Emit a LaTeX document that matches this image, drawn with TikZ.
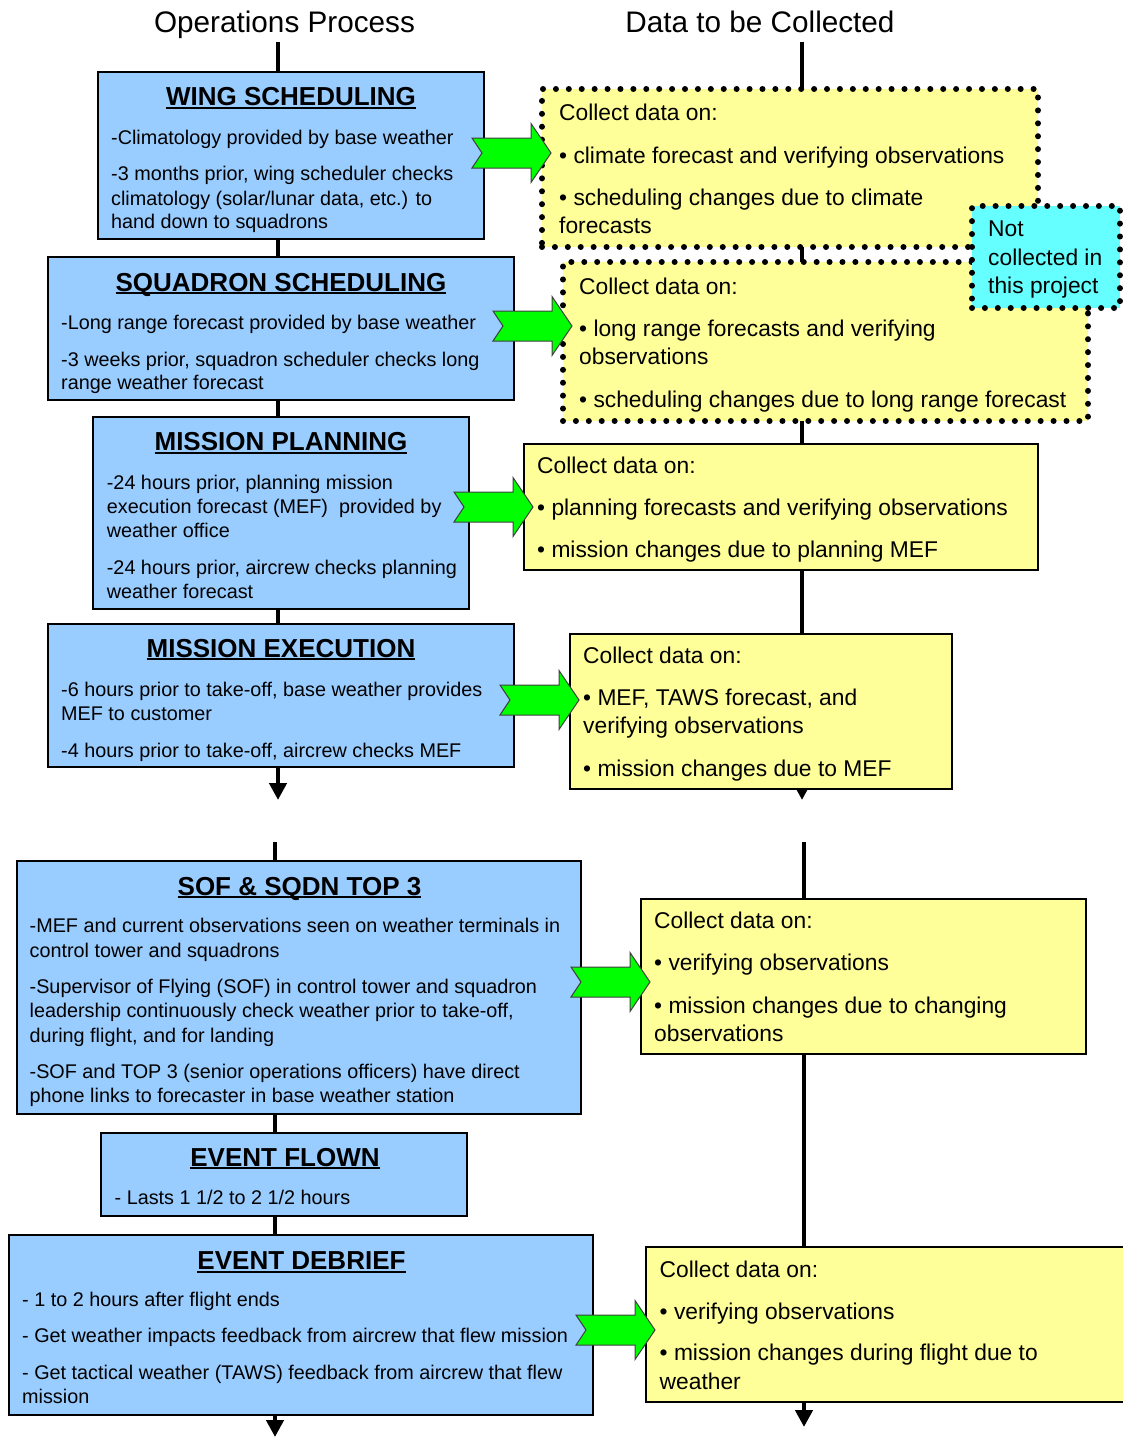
\documentclass[tikz,border=0pt]{standalone}
\usepackage{fontspec}
\setmainfont{Liberation Sans}
\usetikzlibrary{arrows.meta,calc,backgrounds}
\definecolor{boxblue}{RGB}{153,204,255}
\definecolor{boxyellow}{RGB}{255,255,153}
\definecolor{boxcyan}{RGB}{102,255,255}
\definecolor{arrowgreen}{RGB}{0,255,0}
\newcommand\myul[1]{\setbox0=\hbox{#1}\rlap{\rule[-3.2pt]{\wd0}{1.8pt}}\box0}
\newcommand\mkbox[6]{\node[#2, minimum width={#5-#3}, minimum height={#6-#4}] (#1) at (#3,#4) {};}
\newcommand\tx[5]{\node[#2] (#1) at (#3,#4) {#5};}
\newcommand\garrow[2]{\draw[garrowsty] ($(#1.west |- 0,#2)+(9,0)$) -- ++(-20,-29.5) -- ++(0,14.5) -- ++(-59,0) -- ++(10,15) -- ++(-10,15) -- ++(59,0) -- ++(0,14.5) -- cycle;}
\tikzset{
  boxbase/.style={inner sep=0pt, outer sep=0pt, anchor=north west},
  opbox/.style={boxbase, draw=black, line width=1.6pt, fill=boxblue},
  databox/.style={boxbase, draw=black, line width=1.6pt, fill=boxyellow},
  dotbox/.style={boxbase, draw=black, line width=6pt, line cap=round, dash pattern=on 0.01pt off 12.9pt, fill=boxyellow},
  cyanbox/.style={dotbox, fill=boxcyan},
  hdr/.style={anchor=base, inner sep=0pt, font=\fontsize{29.7}{33}\selectfont},
  ttl/.style={anchor=base, inner sep=0pt, font=\bfseries\fontsize{26}{28}\selectfont},
  ltxt/.style={anchor=base west, inner sep=0pt, font=\fontsize{19.8}{24}\selectfont},
  rtxt/.style={anchor=base west, inner sep=0pt, font=\fontsize{22.8}{28}\selectfont},
  spine/.style={draw=black, line width=4.5pt},
  spinearrow/.style={spine, -{Triangle[width=17pt,length=17pt]}},
  garrowsty/.style={fill=arrowgreen, draw=black!75, line width=1pt, line join=miter},
}
\begin{document}
\begin{tikzpicture}[x=1pt,y=-1pt]
\clip (0,0) rectangle (1123,1437);
% headers
\tx{hL}{hdr}{284.5}{33}{Operations Process}
\tx{hR}{hdr}{760}{33}{Data to be Collected}
% left boxes
\mkbox{B1}{opbox}{98}{72}{484}{239}
\mkbox{B2}{opbox}{48}{257}{514}{400}
\mkbox{B3}{opbox}{93}{417}{469}{609}
\mkbox{B4}{opbox}{48}{624}{514}{767}
\mkbox{B5}{opbox}{17}{861}{581}{1114}
\mkbox{B6}{opbox}{101}{1133}{467}{1216}
\mkbox{B7}{opbox}{9}{1235}{593}{1415}
% right boxes
\mkbox{Y1}{dotbox}{542}{89}{1038}{247}
\mkbox{Y2}{dotbox}{563}{262}{1088}{421}
\mkbox{C1}{cyanbox}{972}{206}{1120}{308}
\mkbox{Y3}{databox}{524}{444}{1038}{570}
\mkbox{Y4}{databox}{570}{634}{952}{789}
\mkbox{Y5}{databox}{641}{899}{1086}{1054}
\mkbox{Y6}{databox}{646}{1247}{1140}{1402}
% titles
\tx{B1t}{ttl}{291}{105.7}{\myul{WING SCHEDULING}}
\tx{B2t}{ttl}{281}{291}{\myul{SQUADRON SCHEDULING}}
\tx{B3t}{ttl}{281}{450.7}{\myul{MISSION PLANNING}}
\tx{B4t}{ttl}{281}{657}{\myul{MISSION EXECUTION}}
\tx{B5t}{ttl}{299.5}{895}{\myul{SOF \& SQDN TOP 3}}
\tx{B6t}{ttl}{285}{1166}{\myul{EVENT FLOWN}}
\tx{B7t}{ttl}{301.5}{1269.3}{\myul{EVENT DEBRIEF}}
% left texts
\tx{B1a}{ltxt}{111}{144.3}{-Climatology provided by base weather}
\tx{B1b}{ltxt}{111}{180.5}{-3 months prior, wing scheduler checks}
\tx{B1c}{ltxt}{111}{205}{climatology (solar/lunar data, etc.) to}
\tx{B1d}{ltxt}{111}{228.5}{hand down to squadrons}
\tx{B2a}{ltxt}{61}{329}{-Long range forecast provided by base weather}
\tx{B2b}{ltxt}{61}{366}{-3 weeks prior, squadron scheduler checks long}
\tx{B2c}{ltxt}{61}{389}{range weather forecast}
\tx{B3a}{ltxt}{106.7}{489.3}{-24 hours prior, planning mission}
\tx{B3b}{ltxt}{106.7}{513.3}{execution forecast (MEF)\ \ provided by}
\tx{B3c}{ltxt}{106.7}{537.3}{weather office}
\tx{B3d}{ltxt}{106.7}{574}{-24 hours prior, aircrew checks planning}
\tx{B3e}{ltxt}{106.7}{598.3}{weather forecast}
\tx{B4a}{ltxt}{61}{696}{-6 hours prior to take-off, base weather provides}
\tx{B4b}{ltxt}{61}{720}{MEF to customer}
\tx{B4c}{ltxt}{61}{757}{-4 hours prior to take-off, aircrew checks MEF}
\tx{B5a}{ltxt}{29.5}{932.7}{-MEF and current observations seen on weather terminals in}
\tx{B5b}{ltxt}{29.5}{957.3}{control tower and squadrons}
\tx{B5c}{ltxt}{29.5}{993.3}{-Supervisor of Flying (SOF) in control tower and squadron}
\tx{B5d}{ltxt}{29.5}{1017.7}{leadership continuously check weather prior to take-off,}
\tx{B5e}{ltxt}{29.5}{1042.3}{during flight, and for landing}
\tx{B5f}{ltxt}{29.5}{1078.3}{-SOF and TOP 3 (senior operations officers) have direct}
\tx{B5g}{ltxt}{29.5}{1102.3}{phone links to forecaster in base weather station}
\tx{B6a}{ltxt}{114.5}{1204}{- Lasts 1 1/2 to 2 1/2 hours}
\tx{B7a}{ltxt}{22}{1306.7}{- 1 to 2 hours after flight ends}
\tx{B7b}{ltxt}{22}{1342.7}{- Get weather impacts feedback from aircrew that flew mission}
\tx{B7c}{ltxt}{22}{1379.3}{- Get tactical weather (TAWS) feedback from aircrew that flew}
\tx{B7d}{ltxt}{22}{1403.3}{mission}
% right texts
\tx{Y1a}{rtxt}{559}{120.7}{Collect data on:}
\tx{Y1b}{rtxt}{559}{163.5}{• climate forecast and verifying observations}
\tx{Y1c}{rtxt}{559}{205.5}{• scheduling changes due to climate}
\tx{Y1d}{rtxt}{559}{233.5}{forecasts}
\tx{Y2a}{rtxt}{579}{294.5}{Collect data on:}
\tx{Y2b}{rtxt}{579}{336.5}{• long range forecasts and verifying}
\tx{Y2c}{rtxt}{579}{364.5}{observations}
\tx{Y2d}{rtxt}{579}{407.5}{• scheduling changes due to long range forecast}
\tx{C1a}{rtxt}{988}{236.7}{Not}
\tx{C1b}{rtxt}{988}{265}{collected in}
\tx{C1c}{rtxt}{988}{293.3}{this project}
\tx{Y3a}{rtxt}{537}{473.5}{Collect data on:}
\tx{Y3b}{rtxt}{537}{515.5}{• planning forecasts and verifying observations}
\tx{Y3c}{rtxt}{537}{557.5}{• mission changes due to planning MEF}
\tx{Y4a}{rtxt}{583}{663.5}{Collect data on:}
\tx{Y4b}{rtxt}{583}{705.5}{• MEF, TAWS forecast, and}
\tx{Y4c}{rtxt}{583}{733.5}{verifying observations}
\tx{Y4d}{rtxt}{583}{776.5}{• mission changes due to MEF}
\tx{Y5a}{rtxt}{654}{928.5}{Collect data on:}
\tx{Y5b}{rtxt}{654}{970.5}{• verifying observations}
\tx{Y5c}{rtxt}{654}{1013.5}{• mission changes due to changing}
\tx{Y5d}{rtxt}{654}{1041.5}{observations}
\tx{Y6a}{rtxt}{659.5}{1277.3}{Collect data on:}
\tx{Y6b}{rtxt}{659.5}{1319.3}{• verifying observations}
\tx{Y6c}{rtxt}{659.5}{1360.5}{• mission changes during flight due to}
\tx{Y6d}{rtxt}{659.5}{1389.3}{weather}
% spine coordinates
\coordinate (lt) at (278,42);
\coordinate (lend) at (278,800);
\coordinate (lb) at (275,842);
\coordinate (lbend) at (275,1437);
\coordinate (rt) at (802,42);
\coordinate (rend) at (802,800);
\coordinate (rb) at (804,842);
\coordinate (rbend) at (804,1427);
\begin{scope}[on background layer]
\draw[spine] (lt) -- (lt |- B1.north);
\draw[spine] (lt |- B1.south) -- (lt |- B2.north);
\draw[spine] (lt |- B2.south) -- (lt |- B3.north);
\draw[spine] (lt |- B3.south) -- (lt |- B4.north);
\draw[spinearrow] (lt |- B4.south) -- (lend);
\draw[spine] (lb) -- (lb |- B5.north);
\draw[spine] (lb |- B5.south) -- (lb |- B6.north);
\draw[spine] (lb |- B6.south) -- (lb |- B7.north);
\draw[spinearrow] (lb |- B7.south) -- (lbend);
\draw[spine] (rt) -- (rt |- Y1.north);
\draw[spine] (rt |- Y1.south) -- (rt |- Y2.north);
\draw[spine] (rt |- Y2.south) -- (rt |- Y3.north);
\draw[spine] (rt |- Y3.south) -- (rt |- Y4.north);
\draw[spinearrow] (rt |- Y4.center) -- (rend);
\draw[spine] (rb) -- (rb |- Y5.north);
\draw[spine] (rb |- Y5.south) -- (rb |- Y6.north);
\draw[spinearrow] (rb |- Y6.south) -- (rbend);
\end{scope}
% green notched arrows
\garrow{Y1}{153}
\garrow{Y2}{326}
\garrow{Y3}{507}
\garrow{Y4}{700}
\garrow{Y5}{982}
\garrow{Y6}{1330}
\end{tikzpicture}
\end{document}
